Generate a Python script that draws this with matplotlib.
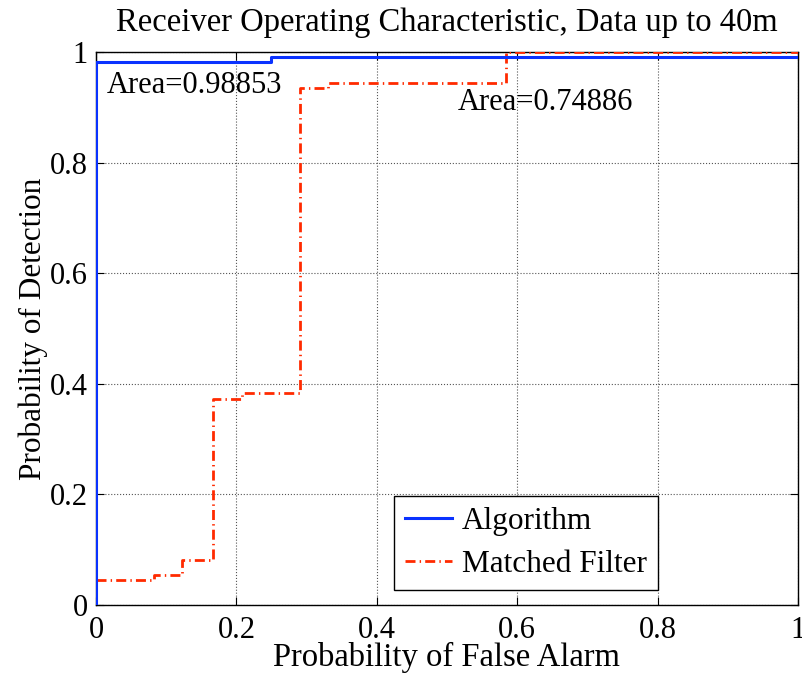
import matplotlib
matplotlib.use('Agg')
import matplotlib.pyplot as plt

# ROC vertices (steps-post)
alg_fpr = [0.0, 0.0, 0.25, 1.0]
alg_tpr = [0.0, 0.982, 0.991, 0.991]

mf_fpr = [0.0, 0.083, 0.123, 0.167, 0.208, 0.29, 0.33, 0.584, 1.0]
mf_tpr = [0.045, 0.054, 0.081, 0.372, 0.383, 0.935, 0.944, 1.0, 1.0]

alg_area = 0.98853
mf_area = 0.74886

plt.rcParams['font.family'] = ['Liberation Serif', 'DejaVu Serif']

fig = plt.figure(figsize=(8.02, 6.76), dpi=100)
ax = fig.add_axes([0.1197, 0.105, 0.8753, 0.818])

ax.plot(mf_fpr, mf_tpr, drawstyle='steps-post', color='#ff2a00', lw=2.0,
        linestyle=(0, (3.6, 1.5, 0.5, 1.5)), label='Matched Filter', zorder=3)
ax.plot(alg_fpr, alg_tpr, drawstyle='steps-post', color='#0a32ff', lw=2.2,
        label='Algorithm', zorder=4)

ax.set_xlim(0, 1)
ax.set_ylim(0, 1)
ax.set_xticks([0, 0.2, 0.4, 0.6, 0.8, 1])
ax.set_yticks([0, 0.2, 0.4, 0.6, 0.8, 1])
ax.set_xticklabels(['0', '0.2', '0.4', '0.6', '0.8', '1'])
ax.set_yticklabels(['0', '0.2', '0.4', '0.6', '0.8', '1'])
ax.tick_params(direction='in', top=True, right=True, labelsize=22, length=6)
ax.tick_params(axis='x', pad=8)
ax.tick_params(axis='y', pad=6)
ax.grid(True, linestyle=':', color='#555555', linewidth=0.8)
for s in ax.spines.values():
    s.set_linewidth(1.0)

ax.set_title('Receiver Operating Characteristic, Data up to 40m', fontsize=23.5, pad=15)
ax.set_xlabel('Probability of False Alarm', fontsize=23.5, labelpad=-2)
ax.set_ylabel('Probability of Detection', fontsize=22.5, labelpad=1)

ax.text(0.016, 0.926, 'Area=%.5f' % alg_area, fontsize=22)
ax.text(0.516, 0.895, 'Area=%.5f' % mf_area, fontsize=22)

h, l = ax.get_legend_handles_labels()
leg = ax.legend(h[::-1], l[::-1], loc='lower right', bbox_to_anchor=(0.8, 0.028),
                fontsize=22.5, fancybox=False, framealpha=1, edgecolor='black',
                handlelength=1.5, borderpad=0.35, labelspacing=0.45, handletextpad=0.3,
                borderaxespad=0)
leg.get_frame().set_linewidth(1.0)

fig.savefig('out.png', dpi=100)
